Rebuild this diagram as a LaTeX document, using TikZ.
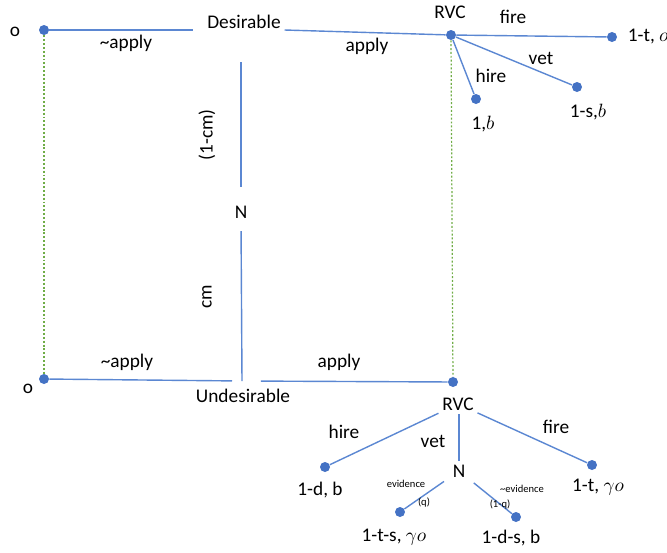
\documentclass[tikz,border=0pt]{standalone}
\usepackage{fontspec}
\setmainfont{Carlito}
\definecolor{dotblue}{HTML}{4472C4}
\definecolor{lineblue}{HTML}{5B87D2}
\definecolor{linkgreen}{HTML}{70AD47}
\tikzset{
  outcome/.style={circle, fill=dotblue, inner sep=0pt, minimum size=0.2cm},
  branch/.style={draw=lineblue, line width=0.8pt},
  infoset/.style={draw=linkgreen, line width=0.7pt, dash pattern=on 1.1pt off 1.1pt},
  lbl/.style={font=\fontsize{11}{13}\selectfont, inner sep=2pt},
  tiny/.style={font=\fontsize{6}{7}\selectfont, inner sep=1pt}
}
\begin{document}
\begin{tikzpicture}[x=0.02cm, y=-0.02cm]
\useasboundingbox (0,0) rectangle (667,552);

% upper half: desirable applicant
\node[outcome] (otop) at (44,30) {};
\node[lbl] (otoplbl) at (15,32) {o};
\node[lbl] (desir) at (244,22) {Desirable};
\node[outcome] (rvctop) at (451,35) {};
\node[lbl] (rvctoplbl) at (450,12) {RVC};
\draw[branch, shorten >=0.2cm] (otop) to (otop -| desir.west);
\draw[branch] (otop -| desir.east) to (rvctop);
\node[lbl] (napplytop) at (126,43) {\textasciitilde apply};
\node[lbl] (applytop) at (367,46) {apply};

\node[outcome] (firetop) at (612,37) {};
\node[outcome] (vettop) at (577,87) {};
\node[outcome] (hiretop) at (476,99) {};
\draw[branch] (rvctop) to (firetop);
\draw[branch] (rvctop) to (vettop);
\draw[branch] (rvctop) to (hiretop);
\node[lbl] (firetoplbl) at (513,17) {fire};
\node[lbl] (vettoplbl) at (541,58) {vet};
\node[lbl] (hiretoplbl) at (491,76) {hire};
\node[lbl, anchor=west] (payfiretop) at (624,37) {1-t, $o$};
\node[lbl] (payvettop) at (588,112) {1-s,$b$};
\node[lbl] (payhiretop) at (483,124) {1,$b$};

% nature's move
\node[lbl] (nature) at (241,212) {N};
\coordinate (ujunct) at (242,381);
\draw[branch, shorten <=0.3cm, shorten >=0.58cm] (nature.north) to (nature.north |- desir.south);
\draw[branch, shorten <=0.18cm] (nature.south) to (ujunct);
\node[lbl, rotate=90] (probhigh) at (207,135) {(1-cm)};
\node[lbl, rotate=90] (problow) at (207,297) {cm};

% lower half: undesirable applicant
\node[outcome] (obot) at (44,379) {};
\node[lbl] (obotlbl) at (28,389) {o};
\node[lbl] (undes) at (243,396) {Undesirable};
\node[outcome] (rvcbot) at (453,382) {};
\draw[branch, shorten >=0.2cm] (obot) to (ujunct);
\draw[branch, shorten <=0.38cm] (ujunct) to (rvcbot);
\node[lbl] (napplybot) at (127,362) {\textasciitilde apply};
\node[lbl] (applybot) at (339,362) {apply};

\draw[infoset] (otop) to (obot);
\draw[infoset] (rvctop) to (rvcbot);

\node[lbl] (rvcbotlbl) at (458,404) {RVC};
\node[outcome] (hirebot) at (325,467) {};
\node[outcome] (firebot) at (592,465) {};
\node[lbl] (natbot) at (459,471) {N};
\draw[branch] (rvcbotlbl) to (hirebot);
\draw[branch] (rvcbotlbl.south -| natbot) to (natbot);
\draw[branch] (rvcbotlbl) to (firebot);
\node[lbl] (hirebotlbl) at (344,432) {hire};
\node[lbl] (vetbotlbl) at (433,441) {vet};
\node[lbl] (firebotlbl) at (556,427) {fire};
\node[lbl] (payhirebot) at (320,490) {1-d, b};
\node[lbl] (payfirebot) at (598,487) {1-t, $\gamma o$};

\node[outcome] (evid) at (400,512) {};
\node[outcome] (noevid) at (516,517) {};
\draw[branch, shorten <=0.12cm] (natbot) to (evid);
\draw[branch, shorten <=0.12cm] (natbot) to (noevid);
\node[tiny] (evidlbl) at (406,484) {evidence};
\node[tiny] (evidprob) at (424,502) {(q)};
\node[tiny] (noevidlbl) at (522,489) {\textasciitilde evidence};
\node[tiny] (noevidprob) at (500,504) {(1-q)};
\node[lbl] (payevid) at (394,537) {1-t-s, $\gamma o$};
\node[lbl] (paynoevid) at (511,538) {1-d-s, b};
\end{tikzpicture}
\end{document}
